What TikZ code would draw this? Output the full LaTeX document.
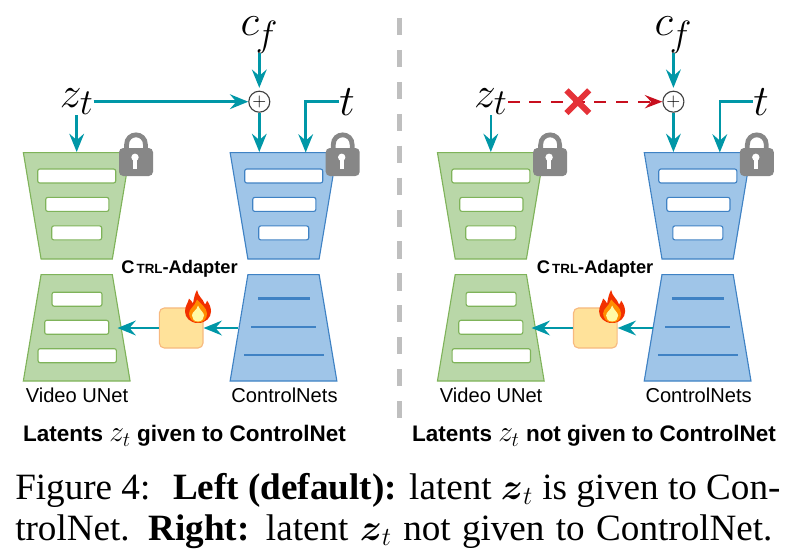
\documentclass[tikz,border=0pt]{standalone}
\usepackage{fix-cm}
\usepackage{amsmath}
\usepackage{fontspec}
\setmainfont{Liberation Serif}
\setsansfont{Liberation Sans}
\usetikzlibrary{arrows.meta,shapes.geometric,shapes.misc}
\DeclareMathSizes{31}{31}{26}{20}
\definecolor{tealline}{HTML}{0097A7}
\definecolor{greenfill}{HTML}{B9D7A8}
\definecolor{greenline}{HTML}{7FB35A}
\definecolor{bluefill}{HTML}{9FC5E8}
\definecolor{blueline}{HTML}{3F82C4}
\definecolor{redline}{HTML}{C80F1E}
\definecolor{crossred}{HTML}{E53238}
\definecolor{adfill}{HTML}{FFE29A}
\definecolor{adline}{HTML}{F7B97F}
\tikzset{
	gtrap/.style = {trapezium,draw=greenline,fill=greenfill,line width=0.8pt,inner sep=1pt,trapezium stretches=true,
		trapezium angle=76,minimum width=2.667cm,minimum height=2.66cm},
	btrap/.style = {gtrap,draw=blueline,fill=bluefill},
	gbar/.style = {rectangle,rounded corners=1.5pt,draw=greenline,fill=white,line width=0.8pt,inner sep=0pt,minimum height=0.35cm},
	bbar/.style = {gbar,draw=blueline},
	bline/.style = {rectangle,fill=blueline,inner sep=0pt,minimum height=0.06cm},
	mathlabel/.style = {inner sep=0pt,font=\fontsize{31}{34}\selectfont},
	netlabel/.style = {inner sep=0pt,font=\sffamily\fontsize{14.3}{16}\selectfont},
	adaptlabel/.style = {inner sep=0pt,font=\sffamily\bfseries\fontsize{13}{15}\selectfont},
	titlelabel/.style = {inner sep=0pt,font=\sffamily\bfseries\fontsize{16}{18}\selectfont},
	captext/.style = {inner sep=0pt,anchor=base west,font=\fontsize{26.4}{30}\selectfont},
	sumnode/.style = {circle,draw=black!75,fill=white,line width=0.8pt,inner sep=0pt,minimum size=0.525cm,font=\fontsize{13}{13}\selectfont},
	adapter/.style = {rectangle,rounded corners=3.5pt,draw=adline,fill=adfill,line width=0.8pt,
		inner sep=0pt,minimum width=1.09cm,minimum height=1cm},
	flow/.style = {draw=tealline,line width=1.8pt,-{Stealth[length=13pt,width=10.5pt,inset=4.5pt]}},
	lock/.pic = {
		\draw[line width=3.4pt,draw=black!47] (-9.5,-12) -- (-9.5,-17) .. controls (-9.5,-30.5) and (9.5,-30.5) .. (9.5,-17) -- (9.5,-12);
		\fill[black!47,rounded corners=3pt] (-17,-14) rectangle (17,14);
		\fill[white] (-1,-4.7) circle (3.7);
		\fill[white] (-3,-4) -- (1,-4) -- (1,7.3) -- (-3,7.3) -- cycle;
	},
	flame/.pic = {
		\fill[red!60!orange!95!black] (0,16.5) .. controls (-8,16.5) and (-13,11) .. (-13,5) .. controls (-13,-1) and (-10,-3) .. (-9,-8)
			.. controls (-7,-6) and (-6,-5) .. (-5,-3) .. controls (-4,-9) and (-3,-13) .. (-1,-16.5)
			.. controls (0,-10) and (5,-8) .. (7,-2) .. controls (8,-3) and (9,-5) .. (9,-6)
			.. controls (12,-2) and (13,2) .. (13,5) .. controls (13,11) and (8,16.5) .. (0,16.5) -- cycle;
		\fill[orange!90!yellow] (0,16) .. controls (-6,16) and (-9,11) .. (-9,7) .. controls (-9,2) and (-3,0) .. (-1,-7)
			.. controls (2,-3) and (9,1) .. (9,7) .. controls (9,12) and (6,16) .. (0,16) -- cycle;
		\fill[yellow!35!white] (0,15) .. controls (-4,15) and (-6,12) .. (-6,9) .. controls (-6,5) and (-1,4) .. (0,-1)
			.. controls (2,4) and (6,6) .. (6,9) .. controls (6,12) and (4,15) .. (0,15) -- cycle;
	}
}
\begin{document}
\begin{tikzpicture}[x=0.025cm,y=-0.025cm]
		\useasboundingbox (0,0) rectangle (800,558);
		
		% left panel
		\node[gtrap,shape border rotate=180] (gtop) at (76.7,205.8) {};
		\node[gtrap] (gbot) at (76.7,327.8) {};
		\node[btrap,shape border rotate=180] (btop) at (283.5,205.8) {};
		\node[btrap] (bbot) at (283.5,327.8) {};
		\node[gbar,minimum width=1.95cm] (g1) at (76.7,176) {};
		\node[gbar,minimum width=1.58cm] (g2) at (77.3,204.4) {};
		\node[gbar,minimum width=1.25cm] (g3) at (76.7,232.9) {};
		\node[gbar,minimum width=1.25cm] (g4) at (77,299.2) {};
		\node[gbar,minimum width=1.6cm] (g5) at (76.7,327.3) {};
		\node[gbar,minimum width=1.96cm] (g6) at (77.2,355.7) {};
		\node[bbar,minimum width=1.95cm] (b1) at (283.7,176) {};
		\node[bbar,minimum width=1.58cm] (b2) at (284.3,204.4) {};
		\node[bbar,minimum width=1.25cm] (b3) at (283.7,232.9) {};
		\node[bline,minimum width=1.3cm] (l1) at (284.3,298.3) {};
		\node[bline,minimum width=1.64cm] (l2) at (283.5,326.7) {};
		\node[bline,minimum width=2cm] (l3) at (284.3,355) {};
		\node[adapter] (ad) at (181.2,328) {};
		\node[sumnode] (sum) at (259.3,101.7) {$+$};
		\node[mathlabel] (zt) at (76.7,101.7) {$z_t$};
		\node[mathlabel] (cf) at (259.3,35) {$c_{\mkern-1.5mu f}$};
		\node[mathlabel] (t) at (347,101.7) {$t$};
		\node[netlabel] (vu) at (77,395) {Video UNet};
		\node[netlabel] (cn) at (284.5,395) {ControlNets};
		\node[adaptlabel] (al) at (179.5,269) {C\hspace{1.5pt}{\fontsize{9.5}{10}\selectfont TRL}-Adapter};
		\node[titlelabel] (tl) at (184.5,436) {Latents {\fontsize{21}{21}\selectfont $z_t$} given to ControlNet};
		\coordinate (tin) at (305.7,152.5);
		\coordinate (gin) at (117.5,328);
		\draw[flow] (zt.east) -- (sum.west);
		\draw[flow,shorten >=2pt] (cf.south) -- (sum.north);
		\draw[flow] (sum.south) -- (sum |- btop.north);
		\draw[flow] (zt.south) -- (gtop.north);
		\draw[flow] (t.west) -| (tin);
		\draw[flow] (ad.west) -- (gin);
		\draw[flow] (bbot.west |- ad) -- (ad.east);
		\pic at (136,162) {lock};
		\pic at (342.7,162) {lock};
		\pic at (198,306.5) {flame};
		
		% divider
		\coordinate (d1) at (399.5,18);
		\coordinate (d2) at (399.5,420);
		\draw[black!25,line width=3.4pt,dash pattern=on 12.2pt off 10.5pt] (d1) -- (d2);
		
		% right panel
		\begin{scope}[xshift=10.35cm,name prefix=r]
		\node[gtrap,shape border rotate=180] (gtop) at (76.7,205.8) {};
		\node[gtrap] (gbot) at (76.7,327.8) {};
		\node[btrap,shape border rotate=180] (btop) at (283.5,205.8) {};
		\node[btrap] (bbot) at (283.5,327.8) {};
		\node[gbar,minimum width=1.95cm] (g1) at (76.7,176) {};
		\node[gbar,minimum width=1.58cm] (g2) at (77.3,204.4) {};
		\node[gbar,minimum width=1.25cm] (g3) at (76.7,232.9) {};
		\node[gbar,minimum width=1.25cm] (g4) at (77,299.2) {};
		\node[gbar,minimum width=1.6cm] (g5) at (76.7,327.3) {};
		\node[gbar,minimum width=1.96cm] (g6) at (77.2,355.7) {};
		\node[bbar,minimum width=1.95cm] (b1) at (283.7,176) {};
		\node[bbar,minimum width=1.58cm] (b2) at (284.3,204.4) {};
		\node[bbar,minimum width=1.25cm] (b3) at (283.7,232.9) {};
		\node[bline,minimum width=1.3cm] (l1) at (284.3,298.3) {};
		\node[bline,minimum width=1.64cm] (l2) at (283.5,326.7) {};
		\node[bline,minimum width=2cm] (l3) at (284.3,355) {};
		\node[adapter] (ad) at (181.2,328) {};
		\node[sumnode] (sum) at (259.3,101.7) {$+$};
		\node[mathlabel] (zt) at (76.7,101.7) {$z_t$};
		\node[mathlabel] (cf) at (259.3,35) {$c_{\mkern-1.5mu f}$};
		\node[mathlabel] (t) at (347,101.7) {$t$};
		\node[netlabel] (vu) at (77,395) {Video UNet};
		\node[netlabel] (cn) at (284.5,395) {ControlNets};
		\node[adaptlabel] (al) at (181,269) {C\hspace{1.5pt}{\fontsize{9.5}{10}\selectfont TRL}-Adapter};
		\coordinate (tin) at (305.7,152.5);
		\coordinate (gin) at (117.5,328);
		\draw[redline,line width=1.6pt,dash pattern=on 8.5pt off 6.9pt,-{Stealth[length=12.5pt,width=9.5pt,inset=4.5pt]}] (zt.east) -- (sum.west);
		\node[cross out,draw=crossred,line width=4.2pt,inner sep=0pt,minimum size=0.42cm] (x) at (163.7,101.7) {};
		\draw[flow,shorten >=2pt] (cf.south) -- (sum.north);
		\draw[flow] (sum.south) -- (sum |- btop.north);
		\draw[flow] (zt.south) -- (gtop.north);
		\draw[flow] (t.west) -| (tin);
		\draw[flow] (ad.west) -- (gin);
		\draw[flow] (bbot.west |- ad) -- (ad.east);
		\pic at (136,162) {lock};
		\pic at (342.7,162) {lock};
		\pic at (198,306.5) {flame};
		\end{scope}
		
		% titles and caption
		\node[titlelabel] (tr) at (594,436) {Latents {\fontsize{21}{21}\selectfont $z_t$} not given to ControlNet};
		\node[captext] (c1) at (15,499) {\makebox[19.125cm][s]{Figure 4:\hspace{0.28em} \textbf{Left (default):} latent $\boldsymbol{z}_t$ is given to Con-}};
		\node[captext] (c2) at (15,540) {\makebox[18.925cm][s]{trolNet. \textbf{Right:} latent $\boldsymbol{z}_t$ not given to ControlNet.}};
\end{tikzpicture}
\end{document}
